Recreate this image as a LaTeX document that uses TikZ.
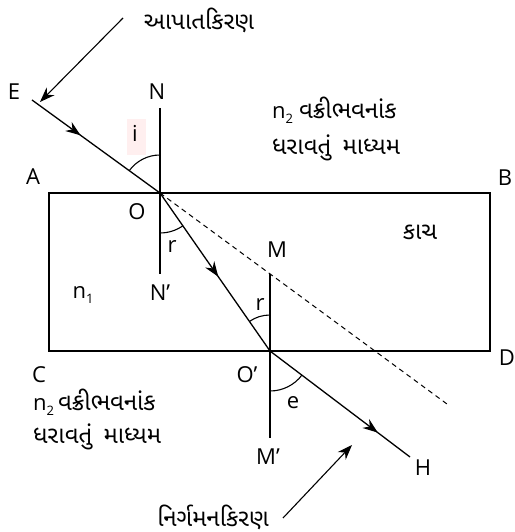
\documentclass[tikz,border=0pt]{standalone}
\usepackage{fontspec}
\setmainfont{Open Sans}
\newfontfamily\guj[Script=Gujarati]{Noto Sans Gujarati UI}
\usetikzlibrary{arrows.meta,decorations.markings}
\tikzset{
  ray/.style={line width=1.3pt},
  thin line/.style={line width=1.1pt},
  midarrow/.style={postaction={decorate},decoration={markings,mark=at position #1 with {\arrow{Stealth[length=15pt,width=11pt]}}}},
  lab/.style={font=\fontsize{22}{26}\selectfont, inner sep=0pt},
  gtext/.style={font=\fontsize{24}{28}\selectfont\guj, inner sep=0pt},
  callout/.style={line width=1.1pt,-{Stealth[length=15pt,width=11pt]}},
}
\newcommand{\nsub}[1]{{\rmfamily\fontsize{22}{26}\selectfont n\raisebox{-0.45ex}{\fontsize{13}{15}\selectfont #1}}}
\begin{document}
\begin{tikzpicture}[x=1pt,y=1pt]
\useasboundingbox (0,0) rectangle (514,532);
% key points
\coordinate (O) at (160,339);
\coordinate (Op) at (270,181);
\coordinate (Es) at (32,432);
\coordinate (Nt) at (160,424);
\coordinate (Nb) at (160,258);
\coordinate (Mt) at (270,258);
\coordinate (Mb) at (270,94);
\coordinate (He) at (410,75);
\coordinate (De) at (447,128);
\coordinate (R1) at (49,339);
\coordinate (R2) at (490,181);
% pink highlight behind i
\fill[pink!25] (127,377) rectangle (146,413);
% slab
\draw[thin line] (R1) rectangle (R2);
% normals
\draw[thin line] (Nt) -- (Nb);
\draw[thin line] (Mt) -- (Mb);
% rays
\draw[ray,midarrow=0.38] (Es) -- (O);
\draw[ray,midarrow=0.53] (O) -- (Op);
\draw[ray,midarrow=0.77] (Op) -- (He);
\draw[line width=1pt,dash pattern=on 5pt off 4pt] (O) -- (De);
% angle arcs
\draw[thin line] (O) ++(90:38) arc[start angle=90,end angle=144,radius=38];
\draw[thin line] (O) ++(270:40) arc[start angle=270,end angle=304.8,radius=40];
\draw[thin line] (Op) ++(90:36) arc[start angle=90,end angle=124.8,radius=36];
\draw[thin line] (Op) ++(270:40) arc[start angle=270,end angle=322.9,radius=40];
% callouts
\node[gtext] (inc) at (199,512) {આપાતકિરણ};
\coordinate (incS) at (123,514);
\coordinate (incT) at (40,430);
\draw[callout] (incS) -- (incT);
\node[gtext,anchor=east] (emg) at (269,15) {નિર્ગમનકિરણ};
\coordinate (emgS) at (283,14);
\coordinate (emgT) at (352,87);
\draw[callout] (emgS) -- (emgT);
% labels
\node[lab] (lE) at (14,440) {E};
\node[lab] (lN) at (157,440) {N};
\node[lab] (lA) at (33,355) {A};
\node[lab] (lB) at (505,354) {B};
\node[lab] (lO) at (137,320) {O};
\node[lab] (lr1) at (172,285) {r};
\node[lab] (lNp) at (160,239) {N’};
\node[lab] (lM) at (277,282) {M};
\node[lab] (lr2) at (260,227) {r};
\node[lab] (li) at (135,399) {i};
\node[lab] (ln1) at (83,237) {\nsub{1}};
\node[lab] (lC) at (39,157) {C};
\node[lab] (lOp) at (247,157) {O’};
\node[lab] (lD) at (507,174) {D};
\node[lab] (le) at (293,129) {e};
\node[lab] (lMp) at (268,75) {M’};
\node[lab] (lH) at (423,64) {H};
\node[gtext] (glass) at (420,300) {કાચ};
% medium texts
\node[gtext,anchor=west] (t1a) at (272,422) {\nsub{2}\hspace{6pt}વક્રીભવનાંક};
\node[gtext,anchor=west] (t1b) at (272,384) {ધરાવતું\hspace{4pt} માધ્યમ};
\node[gtext,anchor=west] (t2a) at (33,130) {\nsub{2}\hspace{4pt}વક્રીભવનાંક};
\node[gtext,anchor=west] (t2b) at (33,95) {ધરાવતું\hspace{4pt} માધ્યમ};
\end{tikzpicture}
\end{document}
